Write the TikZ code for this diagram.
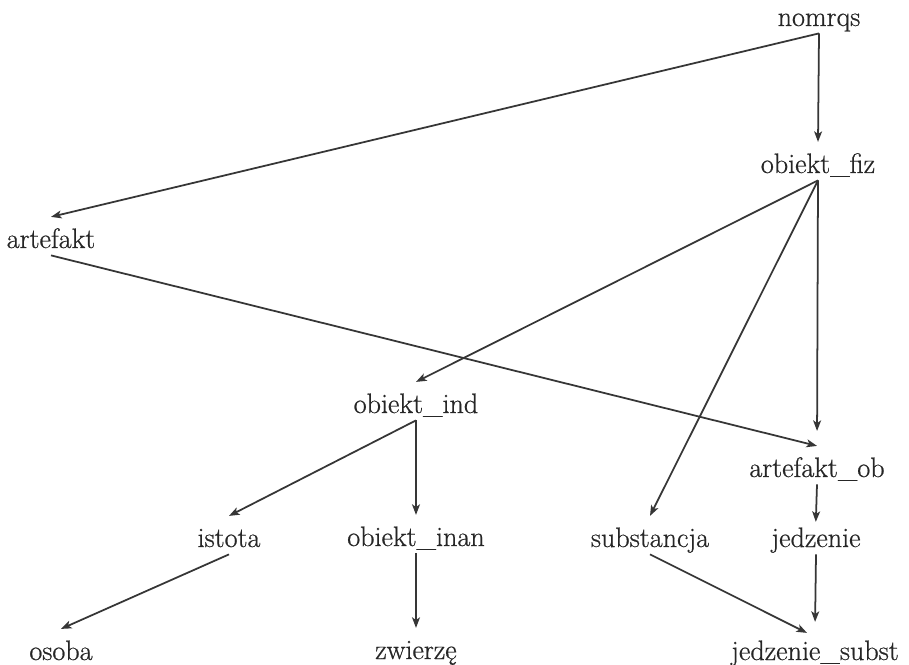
\documentclass[tikz,border=0pt]{standalone}
\usepackage{fontspec}
\newfontfamily\termfont[FakeBold=0.6]{Latin Modern Roman}
\definecolor{TreeInk}{HTML}{262626}
\definecolor{TreeLine}{HTML}{363636}
\usetikzlibrary{arrows.meta}

\begin{document}
\begin{tikzpicture}[x=0.02cm,y=-0.02cm,
      term/.style={font=\termfont\fontsize{16}{19}\selectfont,text=TreeInk,anchor=base,
                   inner sep=0pt,text height=17.5pt,text depth=4pt},
      isa/.style={-{Stealth[length=6pt,width=4.5pt,inset=1.5pt]},line width=1pt,draw=TreeLine}]
    \useasboundingbox[fill=white] (0,0) rectangle (909,665);
    % hierarchy of concepts, one row after another
    \node[term] (nomrqs)  at (819,26)  {nomrqs};
    \node[term] (fiz)     at (818,173) {obiekt\_fiz};
    \node[term] (artefakt) at (51,248) {artefakt};
    \node[term] (ind)     at (416,413) {obiekt\_ind};
    \node[term] (artob)   at (817,477) {artefakt\_ob};
    \node[term] (istota)  at (229,547) {istota};
    \node[term] (inan)    at (416,546) {obiekt\_inan};
    \node[term] (subst)   at (650,547) {substancja};
    \node[term] (jedz)    at (816,547) {jedzenie};
    \node[term] (osoba)   at (61,660)  {osoba};
    \node[term] (zwierz)  at (416,659) {zwierzę};
    \node[term] (jsubst)  at (815,660) {jedzenie\_subst};
    \draw[isa] (nomrqs.south) -- (artefakt.north);
    \draw[isa] (nomrqs.south) -- (fiz.north);
    \draw[isa] (fiz.south) -- (ind.north);
    \draw[isa] (fiz.south) -- (subst.north);
    \draw[isa,shorten >=8.5pt] (fiz.south) -- (artob.north);
    \draw[isa] (artefakt.south) -- (artob.north);
    \draw[isa] (ind.south) -- (istota.north);
    \draw[isa] (ind.south) -- (inan.north);
    \draw[isa] (istota.south) -- (osoba.north);
    \draw[isa] (inan.south) -- (zwierz.north);
    \draw[isa,shorten >=-3.4pt] (artob.south) -- (jedz.north);
    \draw[isa,shorten >=4pt] (jedz.south) -- (jsubst.north);
    \draw[isa] (subst.south) -- ([xshift=-0.16cm,yshift=-0.08cm]jsubst.north);
  \end{tikzpicture}
\end{document}
